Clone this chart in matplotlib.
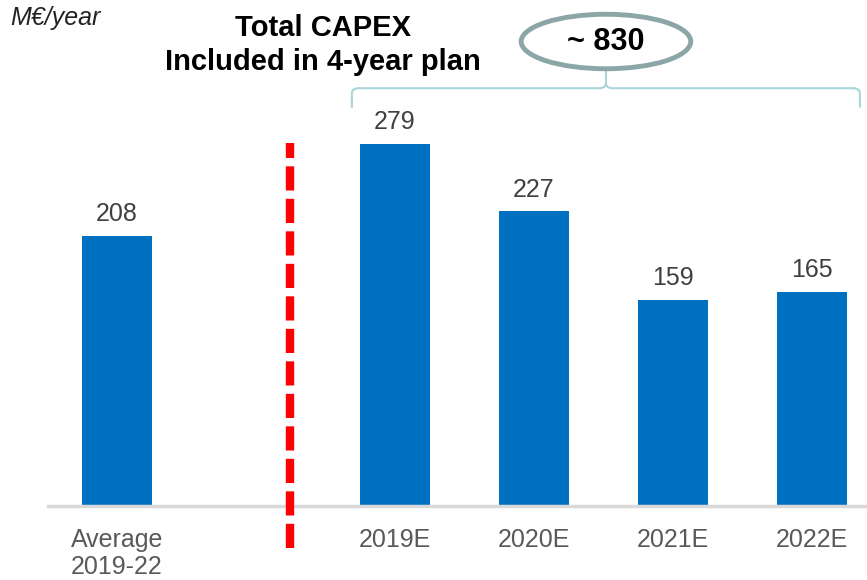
import matplotlib.pyplot as plt
from matplotlib.patches import Ellipse, PathPatch
from matplotlib.path import Path as mpPath

categories = ["Average\n2019-22", "2019E", "2020E", "2021E", "2022E"]
values = [208, 279, 227, 159, 165]
slots = [0, 2, 3, 4, 5]
total_label = "~ 830"

plt.rcParams["font.family"] = ["Liberation Sans", "DejaVu Sans"]

W, H = 867, 580
fig = plt.figure(figsize=(W / 100, H / 100), dpi=100)
ax = fig.add_axes([48 / W, (H - 506) / H, (W - 48) / W, 506 / H])

bar_color = "#0070c0"
ax.bar(slots, values, width=0.5, color=bar_color, zorder=2)
for x, v in zip(slots, values):
    ax.annotate(str(v), (x, v), xytext=(0, 7), textcoords="offset points",
                ha="center", va="bottom", fontsize=18, color="#404040")

ax.set_xlim(-0.496, 5.396)
ax.set_ylim(0, 390)
ax.set_xticks(slots)
ax.set_xticklabels(categories, fontsize=18, color="#595959", ha="center",
                   va="top", linespacing=1.15, multialignment="left")
ax.tick_params(axis="x", length=0, pad=16)
ax.set_yticks([])
for s in ["left", "right", "top"]:
    ax.spines[s].set_visible(False)
ax.spines["bottom"].set_color("#d9d9d9")
ax.spines["bottom"].set_linewidth(2.5)

# divider between average and yearly plan
ax.plot([1.245, 1.245], [-32, 280], color="#ff0000", lw=6,
        ls=(0, (2.9, 1.0)), clip_on=False, zorder=3)

# brace over the plan years
x0, x1, xm = 1.69, 5.345, 3.518
yb, yt, ytip = 307, 322, 336
r = 0.05
verts = [(x0, yb), (x0, yt - 4), (x0, yt), (x0 + r, yt),
         (xm - r, yt), (xm, yt), (xm, yt + 4), (xm, ytip)]
codes = [mpPath.MOVETO, mpPath.LINETO, mpPath.CURVE3, mpPath.CURVE3,
         mpPath.LINETO, mpPath.CURVE3, mpPath.CURVE3, mpPath.LINETO]
verts2 = [(x1, yb), (x1, yt - 4), (x1, yt), (x1 - r, yt),
          (xm + r, yt), (xm, yt), (xm, yt + 4)]
codes2 = [mpPath.MOVETO, mpPath.LINETO, mpPath.CURVE3, mpPath.CURVE3,
          mpPath.LINETO, mpPath.CURVE3, mpPath.CURVE3]
for v, c in [(verts, codes), (verts2, codes2)]:
    ax.add_patch(PathPatch(mpPath(v, c), fill=False, edgecolor="#a9d4d9",
                           lw=1.5, clip_on=False))

ax.add_patch(Ellipse((3.518, 358), 1.22, 42, fill=True, facecolor="white",
                     edgecolor="#8ca5a6", lw=3.5, clip_on=False, zorder=4))
ax.text(3.518, 358, total_label, ha="center", va="center", fontsize=22,
        fontweight="bold", color="black", zorder=5)

fig.text(323 / W, 1 - 45 / H, "Total CAPEX\nIncluded in 4-year plan",
         ha="center", va="center", fontsize=21, fontweight="bold",
         linespacing=1.25)
fig.text(10 / W, 1 - 18 / H, "M€/year", ha="left", va="center",
         fontsize=18, fontstyle="italic", color="#222222")

fig.savefig("out.png", dpi=100)
